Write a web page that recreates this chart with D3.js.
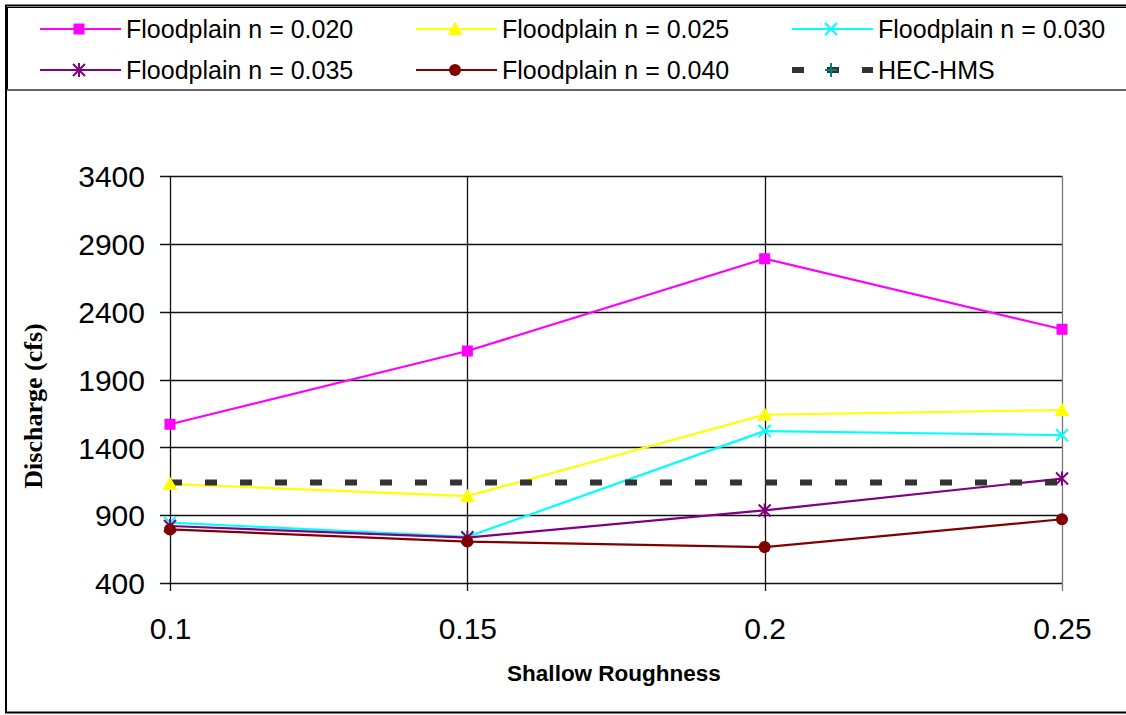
<!DOCTYPE html>
<html>
<head>
<meta charset="utf-8">
<script src="https://cdn.jsdelivr.net/npm/d3@7"></script>
<style>
  html, body { margin: 0; padding: 0; background: #fff; }
  svg { display: block; }
</style>
</head>
<body>
<svg id="chart" width="1126" height="715"></svg>
<script>
// ---- data ----
const roughness = [0.1, 0.15, 0.2, 0.25];
const xTickLabels = ["0.1", "0.15", "0.2", "0.25"];
const yTicks = [400, 900, 1400, 1900, 2400, 2900, 3400];
const seriesNames = ["Floodplain n = 0.020", "Floodplain n = 0.025", "Floodplain n = 0.030",
                     "Floodplain n = 0.035", "Floodplain n = 0.040", "HEC-HMS"];
const n020 = [1570, 2110, 2790, 2270];
const n025 = [1130, 1040, 1640, 1675];
const n030 = [845, 740, 1520, 1490];
const n035 = [820, 735, 935, 1170];
const n040 = [795, 705, 665, 870];
const hecHms = [1140, 1140, 1140, 1140];

// ---- styles ----
const seriesStyle = [
  { color: "#FF00FF", marker: "square" },
  { color: "#FFFF00", marker: "triangle" },
  { color: "#00FFFF", marker: "x" },
  { color: "#800080", marker: "star" },
  { color: "#800000", marker: "circle" },
  { color: "#333333", marker: "plus", markerColor: "#008080", dashed: true }
];
const seriesValues = [n020, n025, n030, n035, n040, hecHms];

const svg = d3.select("#chart");
const FONT = "'Liberation Sans', Arial, Helvetica, sans-serif";

// outer frame
svg.append("rect").attr("x", 6).attr("y", 5.5).attr("width", 1130).attr("height", 707)
  .attr("fill", "none").attr("stroke", "#000").attr("stroke-width", 2);

// ---- scales ----
const x = d3.scaleLinear().domain([0.1, 0.25]).range([170, 1062]);
const y = d3.scaleLinear().domain([400, 3400]).range([583, 176]);

// ---- grid ----
const gridG = svg.append("g");
gridG.selectAll("line.h").data(yTicks).join("line").attr("class", "h")
  .attr("x1", 160).attr("x2", 1062)
  .attr("y1", d => Math.round(y(d)) + 0.5).attr("y2", d => Math.round(y(d)) + 0.5)
  .attr("stroke", "#111").attr("stroke-width", 1.3);
gridG.selectAll("line.v").data(roughness).join("line").attr("class", "v")
  .attr("x1", d => Math.round(x(d)) + 0.5).attr("x2", d => Math.round(x(d)) + 0.5)
  .attr("y1", 176).attr("y2", 591)
  .attr("stroke", d => d === 0.25 ? "#777" : "#111").attr("stroke-width", 1.3);

// ---- axis labels ----
const yAxis = d3.axisLeft(y).tickValues(yTicks).tickSize(0).tickPadding(0).tickFormat(d3.format("d"));
svg.append("g").attr("transform", "translate(145,0)").call(yAxis)
  .call(g => g.select(".domain").remove())
  .call(g => g.selectAll("text").attr("font-family", FONT).attr("font-size", 30)
      .attr("fill", "#000").attr("dy", "0.36em"));

const xAxis = d3.axisBottom(x).tickValues(roughness).tickSize(0).tickPadding(0)
  .tickFormat((d, i) => xTickLabels[i]);
svg.append("g").attr("transform", "translate(0,618)").call(xAxis)
  .call(g => g.select(".domain").remove())
  .call(g => g.selectAll("text").attr("font-family", FONT).attr("font-size", 30)
      .attr("fill", "#000").attr("dy", "0.71em"));

svg.append("text").attr("x", 614).attr("y", 681).attr("text-anchor", "middle")
  .attr("font-family", FONT).attr("font-weight", "bold").attr("font-size", 22.5)
  .text("Shallow Roughness");

svg.append("text").attr("transform", "translate(42,406) rotate(-90)").attr("text-anchor", "middle")
  .attr("font-family", "'Liberation Serif', 'Times New Roman', serif").attr("font-weight", "bold")
  .attr("font-size", 26).text("Discharge (cfs)");

// ---- markers ----
function drawMarker(g, type, color, cx, cy) {
  const s = 5.5;
  if (type === "square") {
    g.append("rect").attr("x", cx - s).attr("y", cy - s).attr("width", 2 * s).attr("height", 2 * s).attr("fill", color);
  } else if (type === "triangle") {
    g.append("path").attr("d", `M${cx},${cy - 7.5}L${cx + 7.5},${cy + 6}L${cx - 7.5},${cy + 6}Z`).attr("fill", color);
  } else if (type === "x") {
    g.append("path").attr("d", `M${cx - 6},${cy - 6}L${cx + 6},${cy + 6}M${cx - 6},${cy + 6}L${cx + 6},${cy - 6}`)
      .attr("stroke", color).attr("stroke-width", 2).attr("fill", "none");
  } else if (type === "star") {
    g.append("path").attr("d", `M${cx - 6},${cy - 6}L${cx + 6},${cy + 6}M${cx - 6},${cy + 6}L${cx + 6},${cy - 6}M${cx},${cy - 7}L${cx},${cy + 7}`)
      .attr("stroke", color).attr("stroke-width", 2).attr("fill", "none");
  } else if (type === "circle") {
    g.append("circle").attr("cx", cx).attr("cy", cy).attr("r", 6).attr("fill", color);
  } else if (type === "plus") {
    g.append("path").attr("d", `M${cx - 6},${cy}L${cx + 6},${cy}M${cx},${cy - 7}L${cx},${cy + 7}`)
      .attr("stroke", color).attr("stroke-width", 2).attr("fill", "none");
  }
}

// ---- lines ----
const line = d3.line().x((d, i) => x(roughness[i])).y(d => y(d));
const linesG = svg.append("g");
seriesValues.forEach((vals, si) => {
  const st = seriesStyle[si];
  const p = linesG.append("path").datum(vals).attr("d", line).attr("fill", "none")
    .attr("stroke", st.color).attr("stroke-width", st.dashed ? 6 : 2.2);
  if (st.dashed) p.attr("stroke-dasharray", "12,23");
});
const markG = svg.append("g");
seriesValues.forEach((vals, si) => {
  const st = seriesStyle[si];
  if (st.dashed) return;
  vals.forEach((v, i) => drawMarker(markG, st.marker, st.color, x(roughness[i]), y(v)));
});

// ---- legend ----
svg.append("line").attr("x1", 5).attr("x2", 1126).attr("y1", 7.5).attr("y2", 7.5).attr("stroke", "#000").attr("stroke-width", 1);
svg.append("line").attr("x1", 7.5).attr("x2", 7.5).attr("y1", 7).attr("y2", 90).attr("stroke", "#000").attr("stroke-width", 1);
svg.append("line").attr("x1", 7).attr("x2", 1126).attr("y1", 90).attr("y2", 90).attr("stroke", "#666").attr("stroke-width", 2);

const legX = [40, 416, 792];
const legY = [29, 70];
const legG = svg.append("g");
seriesNames.forEach((name, i) => {
  const st = seriesStyle[i];
  const lx = legX[i % 3], ly = legY[Math.floor(i / 3)];
  const l = legG.append("line").attr("x1", lx).attr("x2", lx + 81).attr("y1", ly).attr("y2", ly)
    .attr("stroke", st.color).attr("stroke-width", st.dashed ? 6 : 2.2);
  if (st.dashed) l.attr("stroke-dasharray", "12,23");
  drawMarker(legG, st.marker, st.markerColor || st.color, lx + 39, ly);
  legG.append("text").attr("x", lx + 86).attr("y", ly).attr("dy", "0.35em")
    .attr("font-family", FONT).attr("font-size", 25).attr("fill", "#000").text(name);
});
</script>
</body>
</html>
